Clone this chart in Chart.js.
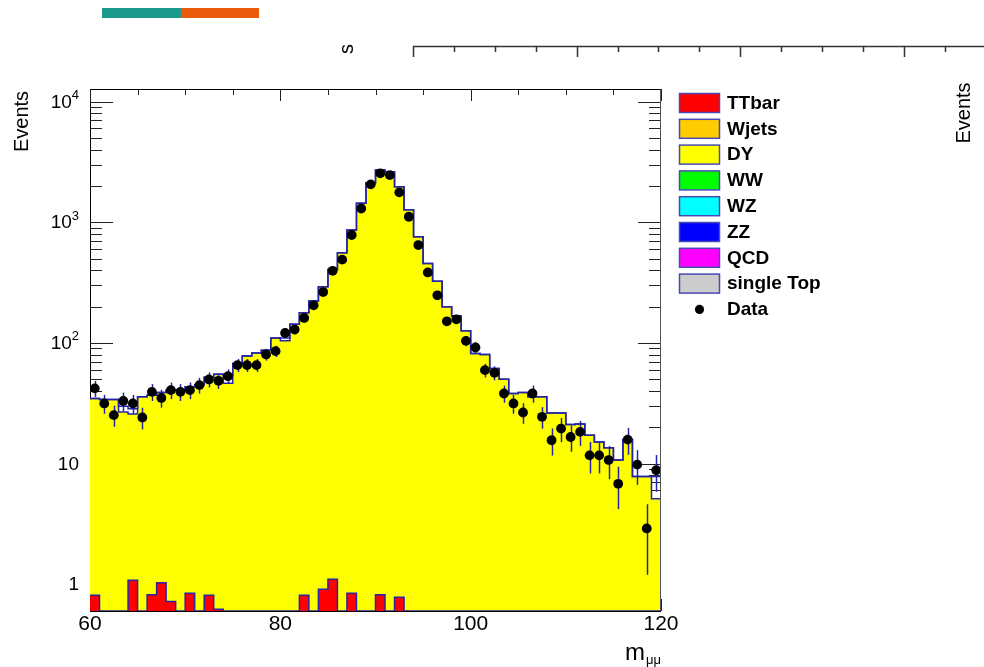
<!DOCTYPE html>
<html>
<head>
<meta charset="utf-8">
<title>m_mumu</title>
<script src="https://cdn.jsdelivr.net/npm/chart.js@4.4.0/dist/chart.umd.min.js"></script>
<style>
    html, body { margin: 0; padding: 0; background: #ffffff; }
    #wrap { position: relative; width: 984px; height: 667px; }
</style>
</head>
<body>
<div id="wrap"><canvas id="chart1" width="984" height="667"></canvas></div>
<script>
// 빈 하한 (GeV), 폭 1
const massBins = [60,61,62,63,64,65,66,67,68,69,70,71,72,73,74,75,76,77,78,79,
                  80,81,82,83,84,85,86,87,88,89,90,91,92,93,94,95,96,97,98,99,
                  100,101,102,103,104,105,106,107,108,109,110,111,112,113,114,115,116,117,118,119];
const BIN_W = 1;

// 데이터 (검은 점)
const dataCounts = [42,31.5,25.2,33,31.5,24.1,39.3,35,40.6,39.3,
                    40.6,44.7,49.8,48.5,53,65.5,65.5,65.5,80.3,85.5,
                    121,129,161,205,264,396,490,784,1300,2061,
                    2543,2460,1770,1111,647,384,248,151,157,104,
                    91.7,59.5,56.5,38.1,31.5,26.5,38.1,24.4,15.6,19.5,
                    16.6,18.3,11.7,11.7,10.7,6.8,15.8,9.8,2.9,8.8];

// TTbar (빨강)
const ttbarCounts = [0.81,0,0,0,1.08,0,0.82,1.03,0.72,0,
                     0.84,0,0.81,0.62,0,0,0,0,0,0,
                     0,0,0.81,0,0.91,1.1,0,0.84,0,0,
                     0.82,0,0.78,0,0,0,0,0,0,0,
                     0,0,0,0,0,0,0,0,0,0,
                     0,0,0,0,0,0,0,0,0,0];

// DY 스택 상단 (노랑)
const dyCounts = [34.7,34,34,26.8,25.7,35.8,36.9,38.9,40.6,40.6,
                  43.3,44.7,51.9,55,46.3,67.6,78,82.5,87,110,
                  104,143,178,223,292,406,558,861,1436,2128,
                  2710,2624,1968,1270,760,456,325,199,167,126,
                  81.8,80.3,61.5,49.9,38.1,38.9,35.8,35.8,26.3,26.3,
                  21.1,21.3,17.2,15.1,13.5,10.7,15.8,7.8,7.8,5.1];

// MC 합계 외곽선
const mcTotal = [34.7,34,34,29.9,28.5,35.8,36.9,38.9,40.6,40.6,
                 43.3,44.7,51.9,55,54,67.6,78,82.5,87,110,
                 110,143,178,223,292,406,558,861,1436,2128,
                 2710,2624,1968,1270,760,456,325,199,167,126,
                 81.8,80.3,61.5,49.9,38.1,38.9,35.8,35.8,26.3,26.3,
                 21.1,21.3,17.2,15.1,13.5,10.7,15.8,7.8,7.8,7.8];

const yTickValues = [1, 10, 100, 1000, 10000];
const yTickLabels = ['1', '10', '10^2', '10^3', '10^4'];
const xTickValues = [60, 80, 100, 120];
const xTickLabels = ['60', '80', '100', '120'];

const legendNames = ['TTbar', 'Wjets', 'DY', 'WW', 'WZ', 'ZZ', 'QCD', 'single Top'];
const legendColors = ['#ff0000', '#ffcc00', '#ffff00', '#00ff00', '#00ffff', '#0000ff', '#ff00ff', '#cccccc'];

const Y_MIN = 0.601;
const Y_MAX = 12720;
const FONT = '"Liberation Sans", Arial, Helvetica, sans-serif';
const LINE_BLUE = '#2424a6';

// 히스토그램 계단 점
function histPoints(vals){
    let pts = massBins.map((x, i) => ({x: x, y: Math.max(vals[i], Y_MIN)}));
    pts.push({x: massBins[massBins.length - 1] + BIN_W, y: Math.max(vals[vals.length - 1], Y_MIN)});
    return pts;
}

let datasets = [];
legendNames.forEach((name, i) => {
    let ds = {
        label: name,
        inLegend: true,
        data: [],
        backgroundColor: legendColors[i],
        borderColor: LINE_BLUE,
        borderWidth: 1.5,
        pointRadius: 0,
        stepped: 'before',
        fill: 'start',
        order: 0
    };
    if (name == 'TTbar'){
        ds.data = histPoints(ttbarCounts);
        ds.order = -2;
    } else if (name == 'DY'){
        ds.data = histPoints(dyCounts);
        ds.order = 0;
    }
    datasets.push(ds);
});
datasets.push({
    label: 'MC total',
    inLegend: false,
    data: histPoints(mcTotal),
    borderColor: LINE_BLUE,
    borderWidth: 1.5,
    pointRadius: 0,
    stepped: 'before',
    fill: false,
    order: -1
});
datasets.push({
    label: 'Data',
    inLegend: true,
    isData: true,
    data: massBins.map((x, i) => ({x: x + BIN_W / 2, y: dataCounts[i]})),
    showLine: false,
    pointRadius: 4.9,
    pointHoverRadius: 4.9,
    pointBackgroundColor: '#000000',
    pointBorderWidth: 0,
    backgroundColor: '#000000',
    borderColor: '#000000',
    order: -3
});

// 데이터 오차 막대 (포아송)
const errorBars = {
    id: 'errorBars',
    beforeDatasetDraw(chart, args){
        const ds = chart.data.datasets[args.index];
        if (!ds.isData) return;
        const ctx = chart.ctx;
        const xs = chart.scales.x, ys = chart.scales.y;
        const area = chart.chartArea;
        ctx.save();
        ctx.beginPath();
        ctx.rect(area.left, area.top, area.right - area.left, area.bottom - area.top);
        ctx.clip();
        ctx.strokeStyle = LINE_BLUE;
        ctx.lineWidth = 1.5;
        ds.data.forEach(p => {
            const err = Math.sqrt(p.y);
            const lo = Math.max(p.y - err, Y_MIN * 0.5);
            const px = Math.round(xs.getPixelForValue(p.x)) + 0.5;
            ctx.beginPath();
            ctx.moveTo(px, ys.getPixelForValue(lo));
            ctx.lineTo(px, ys.getPixelForValue(p.y + err));
            ctx.stroke();
        });
        ctx.restore();
    }
};

// 프레임, 눈금 (히스토그램이 덮음) + 라벨
const rootAxes = {
    id: 'rootAxes',
    beforeDatasetsDraw(chart){
        const ctx = chart.ctx;
        const xs = chart.scales.x, ys = chart.scales.y;
        const a = chart.chartArea;
        ctx.save();
        ctx.strokeStyle = '#000000';
        ctx.lineWidth = 1;
        ctx.strokeRect(Math.round(a.left) + 0.5, Math.round(a.top) + 0.5,
                       Math.round(a.right - a.left) - 1, Math.round(a.bottom - a.top));

        // y 눈금 (로그)
        ctx.strokeStyle = '#222222';
        ctx.beginPath();
        for (let e = -1; e <= 4; e++){
            for (let m = 1; m <= 9; m++){
                const v = m * Math.pow(10, e);
                if (v < Y_MIN || v > Y_MAX) continue;
                const py = Math.round(ys.getPixelForValue(v)) + 0.5;
                const len = (m == 1) ? 23 : 12;
                ctx.moveTo(a.left, py); ctx.lineTo(a.left + len, py);
                ctx.moveTo(a.right, py); ctx.lineTo(a.right - len, py);
            }
        }
        // x 눈금
        for (let v = 60; v <= 120; v += 5){
            const px = Math.round(xs.getPixelForValue(v)) + 0.5;
            const len = (xTickValues.includes(v)) ? 12 : 6;
            ctx.moveTo(px, a.bottom); ctx.lineTo(px, a.bottom - len);
            ctx.moveTo(px, a.top); ctx.lineTo(px, a.top + len);
        }
        ctx.stroke();
        ctx.restore();
    },
    afterDatasetsDraw(chart){
        const ctx = chart.ctx;
        const xs = chart.scales.x, ys = chart.scales.y;
        const a = chart.chartArea;
        ctx.save();
        // 위쪽, 오른쪽 테두리는 보임
        ctx.strokeStyle = '#000000';
        ctx.lineWidth = 1;
        ctx.beginPath();
        ctx.moveTo(Math.round(a.left) + 0.5, Math.round(a.top) + 0.5);
        ctx.lineTo(Math.round(a.right) - 0.5, Math.round(a.top) + 0.5);
        ctx.stroke();
        ctx.strokeStyle = '#555555';
        ctx.beginPath();
        ctx.moveTo(Math.round(a.right) - 0.5, Math.round(a.top) + 0.5);
        ctx.lineTo(Math.round(a.right) - 0.5, Math.round(a.bottom));
        ctx.stroke();

        // y 라벨
        ctx.fillStyle = '#000000';
        ctx.textBaseline = 'middle';
        yTickValues.forEach((v, i) => {
            const py = ys.getPixelForValue(v);
            const parts = yTickLabels[i].split('^');
            const right = a.left - 11;
            if (parts.length == 1){
                ctx.font = '19px ' + FONT;
                ctx.textAlign = 'right';
                ctx.fillText(parts[0], right, py + 1);
            } else {
                ctx.font = '13px ' + FONT;
                const we = ctx.measureText(parts[1]).width;
                ctx.textAlign = 'right';
                ctx.fillText(parts[1], right, py - 6);
                ctx.font = '19px ' + FONT;
                ctx.fillText(parts[0], right - we, py + 1);
            }
        });

        // x 라벨
        ctx.font = '21px ' + FONT;
        ctx.textAlign = 'center';
        ctx.textBaseline = 'alphabetic';
        xTickValues.forEach((v, i) => {
            ctx.fillText(xTickLabels[i], xs.getPixelForValue(v), 630);
        });

        // 축 제목
        ctx.font = '20px ' + FONT;
        ctx.save();
        ctx.translate(22, 121.5);
        ctx.rotate(-Math.PI / 2);
        ctx.textAlign = 'center';
        ctx.textBaseline = 'middle';
        ctx.fillText('Events', 0, 0);
        ctx.restore();

        ctx.font = '13px ' + FONT;
        const wSub = ctx.measureText('μμ').width;
        ctx.textAlign = 'left';
        ctx.fillText('μμ', a.right - wSub, 664);
        ctx.font = '24px ' + FONT;
        const wM = ctx.measureText('m').width;
        ctx.fillText('m', a.right - wSub - wM - 1, 660);
        ctx.restore();
    }
};

// 범례
const rootLegend = {
    id: 'rootLegend',
    afterDraw(chart){
        const ctx = chart.ctx;
        const items = chart.data.datasets.filter(d => d.inLegend);
        ctx.save();
        items.forEach((d, i) => {
            const top = 93.5 + i * 25.8;
            if (d.isData){
                ctx.fillStyle = '#000000';
                ctx.beginPath();
                ctx.arc(699.5, top + 9.5, 4.6, 0, Math.PI * 2);
                ctx.fill();
            } else {
                ctx.fillStyle = d.backgroundColor;
                ctx.fillRect(679.5, top, 40, 19);
                ctx.strokeStyle = '#4a4ab4';
                ctx.lineWidth = 1.5;
                ctx.strokeRect(679.5, top, 40, 19);
            }
            ctx.fillStyle = '#000000';
            ctx.font = 'bold 19px ' + FONT;
            ctx.textAlign = 'left';
            ctx.textBaseline = 'middle';
            ctx.fillText(d.label, 727, top + 10);
        });
        ctx.restore();
    }
};

// 위쪽 다른 패드 조각들
const padBits = {
    id: 'padBits',
    afterDraw(chart){
        const ctx = chart.ctx;
        ctx.save();
        ctx.fillStyle = '#1b9a8b';
        ctx.fillRect(102, 8, 79, 10);
        ctx.fillStyle = '#eb5a0a';
        ctx.fillRect(181, 8, 78, 10);

        ctx.fillStyle = '#000000';
        ctx.font = '20px ' + FONT;
        ctx.textAlign = 'center';
        ctx.textBaseline = 'middle';
        ctx.save();
        ctx.translate(347, 49);
        ctx.rotate(-Math.PI / 2);
        ctx.fillText('s', 0, 0);
        ctx.restore();

        ctx.save();
        ctx.translate(964, 113);
        ctx.rotate(-Math.PI / 2);
        ctx.fillText('Events', 0, 0);
        ctx.restore();

        ctx.strokeStyle = '#333333';
        ctx.lineWidth = 1.5;
        ctx.beginPath();
        ctx.moveTo(413, 46.5); ctx.lineTo(984, 46.5);
        ctx.moveTo(413.5, 46); ctx.lineTo(413.5, 57);
        for (let i = 1; i < 14; i++){
            const px = Math.round(413 + i * 40.9) + 0.5;
            const len = (i % 4 == 0) ? 11 : 6;
            ctx.moveTo(px, 46); ctx.lineTo(px, 46 + len);
        }
        ctx.stroke();
        ctx.restore();
    }
};

const chart1 = new Chart(document.getElementById('chart1').getContext('2d'), {
    type: 'line',
    data: { datasets: datasets },
    options: {
        responsive: false,
        animation: false,
        devicePixelRatio: 1,
        layout: { padding: { left: 90, top: 89, right: 323, bottom: 56 } },
        scales: {
            x: { type: 'linear', min: 60, max: 120, display: false },
            y: { type: 'logarithmic', min: Y_MIN, max: Y_MAX, display: false }
        },
        plugins: {
            legend: { display: false },
            tooltip: { enabled: false }
        }
    },
    plugins: [errorBars, rootAxes, rootLegend, padBits]
});
</script>
</body>
</html>
